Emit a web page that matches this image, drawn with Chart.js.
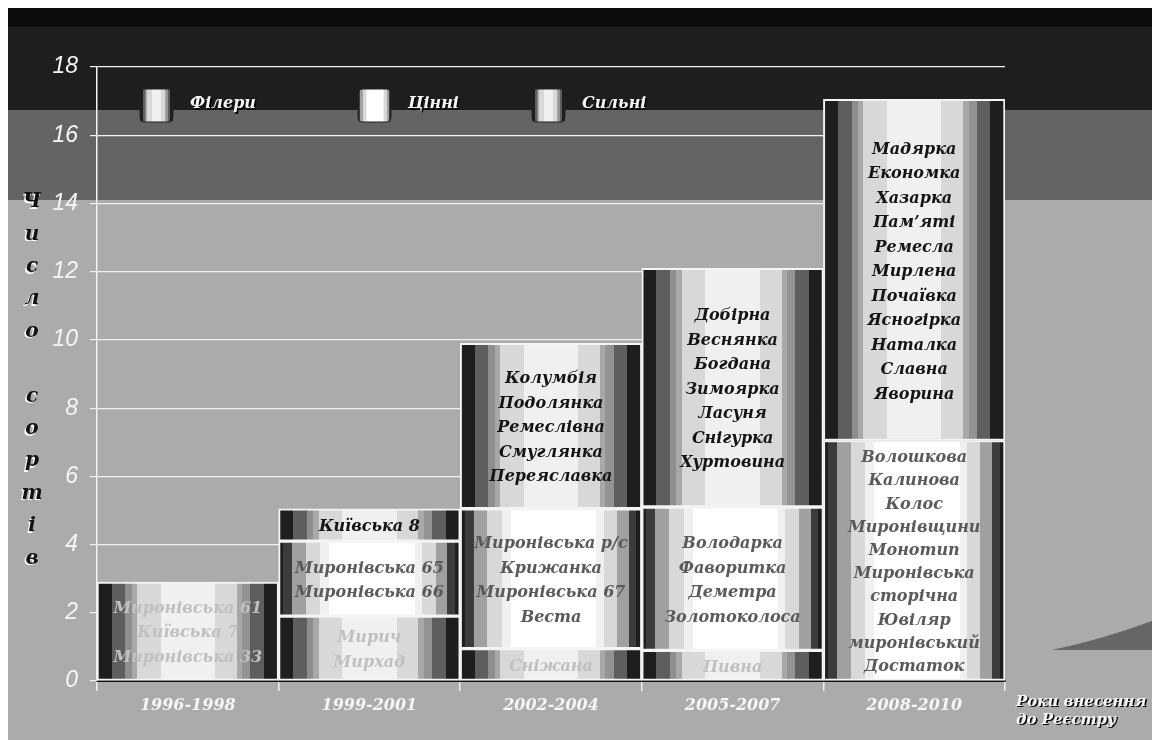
<!DOCTYPE html>
<html lang="uk">
<head>
<meta charset="utf-8">
<title>Число сортів</title>
<script src="https://cdn.jsdelivr.net/npm/chart.js@4.4.1/dist/chart.umd.min.js"></script>
<style>
  html, body { margin: 0; padding: 0; background: #fff; }
  #wrap { width: 1152px; height: 740px; }
</style>
</head>
<body>
<div id="wrap"><canvas id="chart" width="1152" height="740"></canvas></div>
<script>
// Periods of registration
const periods = ['1996-1998', '1999-2001', '2002-2004', '2005-2007', '2008-2010'];

// Number of varieties per group
const filers   = [2.9, 1.9, 0.95, 0.9, null];
const valuable = [null, 2.2, 4.1, 4.2, 7.05];
const strong   = [null, 0.95, 4.85, 7.0, 10.0];

// Y axis ticks
const yTicks = [0, 2, 4, 6, 8, 10, 12, 14, 16, 18];

// Variety names written inside each segment
const filerNames = [
  ['Миронівська 61', 'Київська 7', 'Миронівська 33'],
  ['Мирич', 'Мирхад'],
  ['Сніжана'],
  ['Пивна'],
  []
];
const valuableNames = [
  [],
  ['Миронівська 65', 'Миронівська 66'],
  ['Миронівська р/с', 'Крижанка', 'Миронівська 67', 'Веста'],
  ['Володарка', 'Фаворитка', 'Деметра', 'Золотоколоса'],
  ['Волошкова', 'Калинова', 'Колос', 'Миронівщини', 'Монотип', 'Миронівська', 'сторічна', 'Ювіляр', 'миронівський', 'Достаток']
];
const strongNames = [
  [],
  ['Київська 8'],
  ['Колумбія', 'Подолянка', 'Ремеслівна', 'Смуглянка', 'Переяславка'],
  ['Добірна', 'Веснянка', 'Богдана', 'Зимоярка', 'Ласуня', 'Снігурка', 'Хуртовина'],
  ['Мадярка', 'Економка', 'Хазарка', 'Пам’яті', 'Ремесла', 'Мирлена', 'Почаївка', 'Ясногірка', 'Наталка', 'Славна', 'Яворина']
];

const seriesNames = ['Філери', 'Цінні', 'Сильні'];
const segmentNames = [filerNames, valuableNames, strongNames];
const nameColors = ['#c0c0c0', '#5a5a5a', '#141414'];

// Vertical stripe bands (end fraction, colour) - cylinder look
const greyBands = [
  [0.08, '#1e1e1e'], [0.155, '#5e5e5e'], [0.19, '#8e8e8e'], [0.22, '#a8a8a8'],
  [0.35, '#d8d8d8'], [0.65, '#f0f0f0'], [0.77, '#d8d8d8'], [0.80, '#a8a8a8'],
  [0.845, '#939393'], [0.92, '#5e5e5e'], [1, '#1e1e1e']
];
const whiteBands = [
  [0.025, '#1e1e1e'], [0.075, '#3c3c3c'], [0.15, '#a0a0a0'], [0.23, '#d8d8d8'],
  [0.28, '#f0f0f0'], [0.75, '#ffffff'], [0.79, '#f0f0f0'], [0.865, '#d8d8d8'],
  [0.93, '#a0a0a0'], [0.97, '#3c3c3c'], [1, '#1e1e1e']
];
const seriesBands = [greyBands, whiteBands, greyBands];

// Build a hard-banded horizontal gradient
function stripes(ctx, x0, w, bands) {
  const g = ctx.createLinearGradient(x0, 0, x0 + w, 0);
  let prev = 0;
  bands.forEach(([end, color]) => {
    g.addColorStop(prev, color);
    g.addColorStop(end, color);
    prev = end;
  });
  return g;
}

// Scriptable fill: gradient across the bar's own width
function barFill(bands) {
  return (c) => {
    const xs = c.chart.scales.x;
    if (c.type !== 'data' || !xs || !c.chart.chartArea) return '#d8d8d8';
    const w = xs.width / periods.length;
    const x0 = xs.getPixelForValue(c.dataIndex) - w / 2;
    return stripes(c.chart.ctx, x0, w, bands);
  };
}

// Background bands of the slide
const backdrop = {
  id: 'backdrop',
  beforeDraw(chart) {
    const { ctx, width, height } = chart;
    ctx.save();
    ctx.fillStyle = '#ffffff';
    ctx.fillRect(0, 0, width, height);
    ctx.fillStyle = '#0c0c0c';
    ctx.fillRect(8, 8, width - 8, 19);
    ctx.fillStyle = '#1e1e1e';
    ctx.fillRect(8, 27, width - 8, 83);
    ctx.fillStyle = '#646464';
    ctx.fillRect(8, 110, width - 8, 90);
    ctx.fillStyle = '#ababab';
    ctx.fillRect(8, 200, width - 8, height - 200);
    // dark wedge bottom right
    ctx.fillStyle = '#666666';
    ctx.beginPath();
    ctx.moveTo(1052, 650);
    ctx.quadraticCurveTo(1100, 640, 1152, 621);
    ctx.lineTo(1152, 650);
    ctx.closePath();
    ctx.fill();
    ctx.restore();
  }
};

const serif = '"DejaVu Serif"';

// Variety names inside the bar segments
const barNames = {
  id: 'barNames',
  afterDatasetsDraw(chart) {
    const ctx = chart.ctx;
    ctx.save();
    ctx.font = 'italic bold 16px ' + serif;
    ctx.textAlign = 'center';
    ctx.textBaseline = 'middle';
    chart.data.datasets.forEach((ds, i) => {
      const meta = chart.getDatasetMeta(i);
      meta.data.forEach((bar, j) => {
        const lines = segmentNames[i][j];
        if (!lines || !lines.length) return;
        const top = Math.min(bar.y, bar.base), bottom = Math.max(bar.y, bar.base);
        const step = Math.min(24.5, (bottom - top - 8) / lines.length);
        const mid = (top + bottom) / 2 + 2;
        ctx.fillStyle = nameColors[i];
        lines.forEach((t, k) => {
          ctx.fillText(t, bar.x, mid + (k - (lines.length - 1) / 2) * step);
        });
      });
    });
    ctx.restore();
  }
};

// Legend, axis titles
const extras = {
  id: 'extras',
  afterDraw(chart) {
    const ctx = chart.ctx;
    const area = chart.chartArea;
    ctx.save();

    // legend inside the plot
    const legendX = [140, 358, 532];
    const boxY = 89, box = 33;
    ctx.textBaseline = 'middle';
    ctx.textAlign = 'left';
    ctx.font = 'italic bold 16px ' + serif;
    seriesNames.forEach((name, i) => {
      const x = legendX[i];
      ctx.fillStyle = stripes(ctx, x, box, seriesBands[i]);
      ctx.beginPath();
      ctx.roundRect(x, boxY, box, box, 4);
      ctx.fill();
      ctx.strokeStyle = '#222';
      ctx.lineWidth = 1;
      ctx.stroke();
      ctx.shadowColor = '#000';
      ctx.shadowOffsetX = 1.5;
      ctx.shadowOffsetY = 1.5;
      ctx.fillStyle = '#f4f4f4';
      ctx.fillText(name, x + box + 17, boxY + 15);
      ctx.shadowColor = 'transparent';
    });

    // Y title: stacked letters
    const yTitle = 'Число сортів';
    ctx.font = 'italic bold 20px ' + serif;
    ctx.textAlign = 'center';
    [...yTitle].forEach((ch, k) => {
      if (ch === ' ') return;
      const y = 202 + k * 32.4;
      ctx.fillStyle = '#ffffff';
      ctx.fillText(ch, 30.5, y + 1.5);
      ctx.fillStyle = '#111111';
      ctx.fillText(ch, 32, y);
    });

    // X title to the right of the axis
    ctx.textAlign = 'left';
    ctx.font = 'italic bold 15px ' + serif;
    ctx.shadowColor = '#000';
    ctx.shadowOffsetX = 1.5;
    ctx.shadowOffsetY = 1.5;
    ctx.fillStyle = '#f4f4f4';
    ctx.fillText('Роки внесення', area.right + 11, 702);
    ctx.fillText('до Реєстру', area.right + 11, 720);
    ctx.restore();
  }
};

const lineFont = { family: serif, size: 16, style: 'italic', weight: 'bold' };

new Chart(document.getElementById('chart'), {
  type: 'bar',
  data: {
    labels: periods,
    datasets: [
      { label: seriesNames[0], data: filers, backgroundColor: barFill(greyBands) },
      { label: seriesNames[1], data: valuable, backgroundColor: barFill(whiteBands) },
      { label: seriesNames[2], data: strong, backgroundColor: barFill(greyBands) }
    ]
  },
  options: {
    responsive: false,
    animation: false,
    devicePixelRatio: 1,
    layout: { padding: { top: 67, right: 147, left: 0, bottom: 0 } },
    datasets: {
      bar: {
        categoryPercentage: 1,
        barPercentage: 1,
        borderWidth: 2,
        borderColor: '#f4f4f4',
        borderSkipped: false
      }
    },
    plugins: {
      legend: { display: false },
      tooltip: { enabled: false }
    },
    scales: {
      x: {
        stacked: true,
        afterFit: (s) => { s.height = 59; },
        grid: {
          offset: true,
          drawOnChartArea: false,
          color: '#f0f0f0',
          tickLength: 10,
          lineWidth: 1.5
        },
        border: { color: '#111111', width: 2 },
        ticks: { color: '#f6f6f6', font: lineFont, padding: 5 }
      },
      y: {
        stacked: true,
        min: yTicks[0],
        max: yTicks[yTicks.length - 1],
        afterFit: (s) => { s.width = 97; },
        afterBuildTicks: (s) => { s.ticks = yTicks.map(v => ({ value: v })); },
        grid: { color: '#f2f2f2', tickLength: 7, lineWidth: 1.2 },
        border: { color: '#f2f2f2', width: 1.5 },
        ticks: {
          color: '#f6f6f6',
          padding: 12,
          font: { family: '"Liberation Sans"', size: 23, style: 'italic' }
        }
      }
    }
  },
  plugins: [backdrop, barNames, extras]
});
</script>
</body>
</html>
